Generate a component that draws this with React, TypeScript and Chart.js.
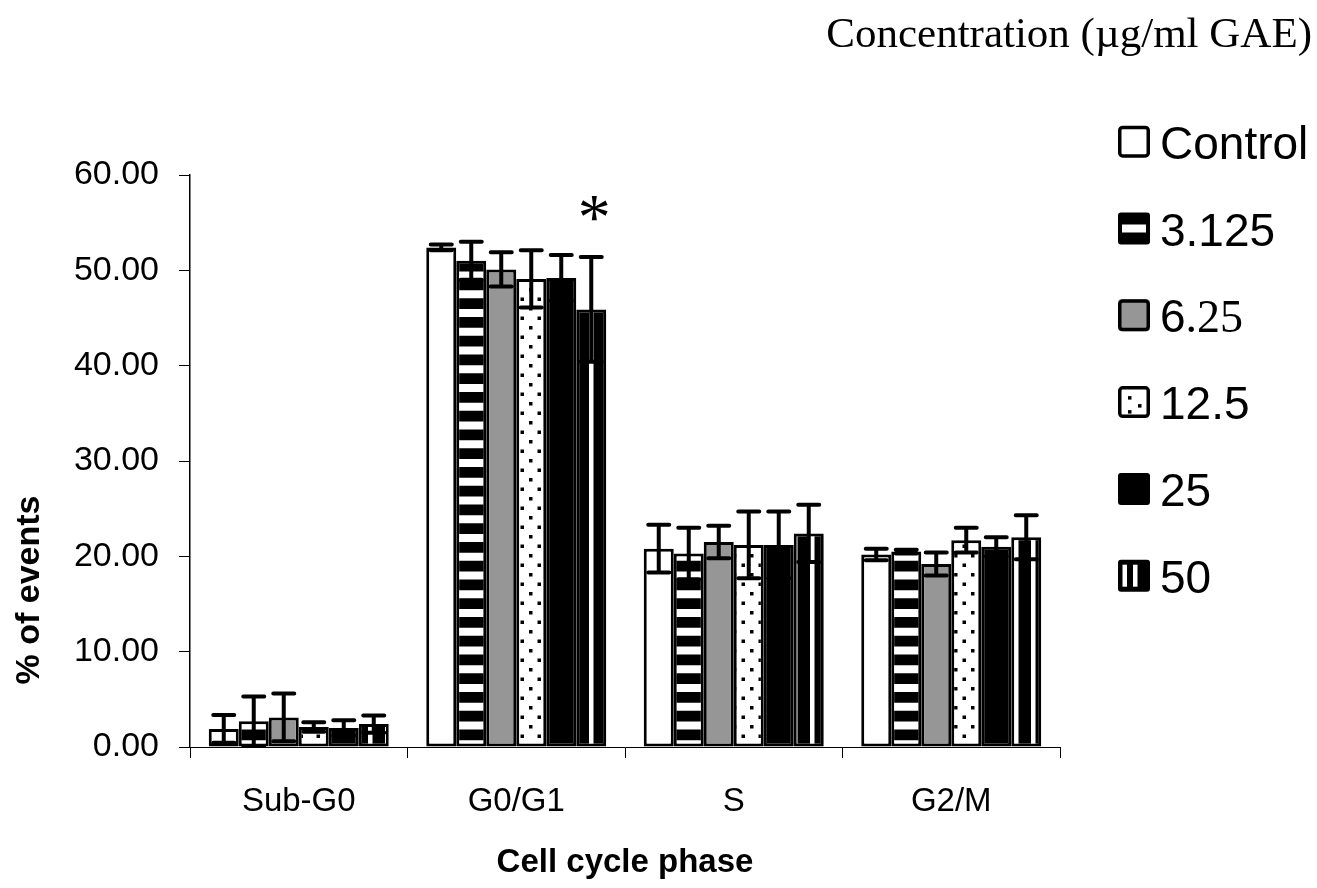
import React, { useEffect, useRef } from "react";
import { Chart, registerables } from "chart.js";

Chart.register(...registerables);

// ---------- data ----------
const categories = ["Sub-G0", "G0/G1", "S", "G2/M"];
const seriesLabels = ["Control", "3.125", "6.25", "12.5", "25", "50"];

const controlValues = [1.9, 52.4, 20.8, 20.2];
const c3125Values = [2.7, 51.0, 20.3, 20.5];
const c625Values = [3.1, 50.1, 21.5, 19.2];
const c125Values = [2.1, 49.1, 21.2, 21.7];
const c25Values = [2.0, 49.2, 21.2, 21.0];
const c50Values = [2.4, 45.9, 22.4, 22.0];

const controlSD = [1.45, 0.3, 2.5, 0.6];
const c3125SD = [2.6, 2.0, 2.7, 0.2];
const c625SD = [2.5, 1.8, 1.7, 1.2];
const c125SD = [0.5, 3.0, 3.5, 1.3];
const c25SD = [0.8, 2.4, 3.5, 1.0];
const c50SD = [0.9, 5.5, 3.0, 2.3];

const yTicks = [0, 10, 20, 30, 40, 50, 60];
const legendTitle = "Concentration (\u00b5g/ml GAE)";
const xTitle = "Cell cycle phase";
const yTitle = "% of events";
// significance marks: [category index, series index, mark]
const significance: [number, number, string][] = [[1, 5, "*"]];

const seriesValues = [controlValues, c3125Values, c625Values, c125Values, c25Values, c50Values];
const seriesSD = [controlSD, c3125SD, c625SD, c125SD, c25SD, c50SD];

const SANS = "'Liberation Sans', Arial, sans-serif";
const SERIF = "'Liberation Serif', 'Times New Roman', serif";
const GRAY = "#969696";

function tile(w: number, h: number, draw: (g: CanvasRenderingContext2D) => void): CanvasPattern {
  const c = document.createElement("canvas");
  c.width = w;
  c.height = h;
  const g = c.getContext("2d")!;
  draw(g);
  return g.createPattern(c, "repeat")!;
}

function makeFills(): (string | CanvasPattern)[] {
  const hStripes = tile(4, 75, (g) => {
    g.fillStyle = "#000";
    g.fillRect(0, 0, 4, 75);
    g.fillStyle = "#fff";
    for (let k = 0; k < 4; k++) g.fillRect(0, 9 + k * 18.75, 4, 8);
  });
  const dots = tile(17, 19, (g) => {
    g.fillStyle = "#fff";
    g.fillRect(0, 0, 17, 19);
    g.fillStyle = "#000";
    g.fillRect(2, 3, 3.5, 3.5);
    g.fillRect(10.5, 12.5, 3.5, 3.5);
  });
  const vStripes = tile(17, 4, (g) => {
    g.fillStyle = "#000";
    g.fillRect(0, 0, 17, 4);
    g.fillStyle = "#fff";
    g.fillRect(11, 0, 4.5, 4);
  });
  return ["#ffffff", hStripes, GRAY, dots, "#000000", vStripes];
}

const errorBarPlugin = {
  id: "errorBars",
  afterDatasetsDraw(chart: any) {
    const ctx: CanvasRenderingContext2D = chart.ctx;
    const ys = chart.scales.y;
    chart.data.datasets.forEach((ds: any, i: number) => {
      const meta = chart.getDatasetMeta(i);
      meta.data.forEach((bar: any, j: number) => {
        const v = ds.data[j];
        const e = seriesSD[i][j];
        const x = bar.x;
        const yT = ys.getPixelForValue(v + e);
        const yB = ys.getPixelForValue(Math.max(0, v - e));
        ctx.save();
        ctx.strokeStyle = "#000";
        ctx.lineWidth = 4;
        ctx.lineCap = "round";
        ctx.beginPath();
        ctx.moveTo(x, yT);
        ctx.lineTo(x, yB);
        ctx.moveTo(x - 10.5, yT);
        ctx.lineTo(x + 10.5, yT);
        ctx.moveTo(x - 10.5, yB);
        ctx.lineTo(x + 10.5, yB);
        ctx.stroke();
        ctx.restore();
      });
    });
    // significance marks
    significance.forEach(([ci, si, mark]) => {
      const bar = chart.getDatasetMeta(si).data[ci];
      const v = seriesValues[si][ci] + seriesSD[si][ci];
      const cy = ys.getPixelForValue(v) - 48;
      ctx.save();
      ctx.font = `66px ${SERIF}`;
      ctx.fillStyle = "#000";
      ctx.textAlign = "center";
      ctx.textBaseline = "alphabetic";
      const m = ctx.measureText(mark);
      const mid = (m.actualBoundingBoxAscent - m.actualBoundingBoxDescent) / 2;
      ctx.fillText(mark, bar.x + 3, cy + mid);
      ctx.restore();
    });
  },
};

function drawLegendBox(ctx: CanvasRenderingContext2D, i: number, x: number, y: number, s: number) {
  ctx.save();
  const r = 3;
  ctx.beginPath();
  (ctx as any).roundRect(x, y, s, s, r);
  if (i === 0) {
    ctx.fillStyle = "#fff";
    ctx.fill();
  } else if (i === 1) {
    ctx.fillStyle = "#000";
    ctx.fill();
    ctx.fillStyle = "#fff";
    ctx.fillRect(x + 4, y + s / 2 - 4, s - 8, 8);
  } else if (i === 2) {
    ctx.fillStyle = GRAY;
    ctx.fill();
  } else if (i === 3) {
    ctx.fillStyle = "#fff";
    ctx.fill();
    ctx.fillStyle = "#000";
    ctx.fillRect(x + 10, y + 10, 3.5, 3.5);
    ctx.fillRect(x + 20, y + 18, 3.5, 3.5);
    ctx.fillRect(x + 10, y + 24, 3.5, 3.5);
  } else if (i === 4) {
    ctx.fillStyle = "#000";
    ctx.fill();
  } else {
    ctx.fillStyle = "#000";
    ctx.fill();
    ctx.fillStyle = "#fff";
    ctx.fillRect(x + 4.5, y + 5, 4.5, s - 10);
    ctx.fillRect(x + 15, y + 5, 4.5, s - 10);
  }
  if (i !== 1 && i !== 4 && i !== 5) {
    ctx.beginPath();
    (ctx as any).roundRect(x + 1.75, y + 1.75, s - 3.5, s - 3.5, r);
    ctx.strokeStyle = "#000";
    ctx.lineWidth = 3.5;
    ctx.stroke();
  }
  ctx.restore();
}

const legendPlugin = {
  id: "customLegend",
  afterDraw(chart: any) {
    const ctx: CanvasRenderingContext2D = chart.ctx;
    ctx.save();
    // title
    ctx.font = `43px ${SERIF}`;
    ctx.fillStyle = "#000";
    ctx.textAlign = "right";
    ctx.textBaseline = "alphabetic";
    ctx.fillText(legendTitle, 1312, 47);
    // y axis title (placed lower than the axis centre, as in the original)
    ctx.save();
    ctx.translate(30, 590);
    ctx.rotate(-Math.PI / 2);
    ctx.font = `bold 34px ${SANS}`;
    ctx.textAlign = "center";
    ctx.textBaseline = "middle";
    ctx.fillText(yTitle, 0, 0);
    ctx.restore();
    // items
    const boxX = 1118;
    const boxS = 32;
    const textX = 1160;
    const top = 141.7;
    const step = 86.8;
    chart.data.datasets.forEach((ds: any, i: number) => {
      const cy = top + i * step;
      drawLegendBox(ctx, i, boxX, cy - boxS / 2, boxS);
      const label: string = ds.label;
      ctx.textAlign = "left";
      ctx.fillStyle = "#000";
      if (label === "6.25") {
        ctx.font = `46px ${SANS}`;
        ctx.fillText("6", textX, cy + 17);
        const w = ctx.measureText("6").width;
        ctx.font = `46px ${SERIF}`;
        ctx.fillText(".25", textX + w, cy + 17);
      } else {
        ctx.font = `46px ${SANS}`;
        ctx.fillText(label, textX, cy + 17);
      }
    });
    ctx.restore();
  },
};

export default function App() {
  const ref = useRef<HTMLCanvasElement>(null);
  useEffect(() => {
    document.body.style.margin = "0";
    const fills = makeFills();
    const chart = new Chart(ref.current!, {
      type: "bar",
      data: {
        labels: categories,
        datasets: seriesLabels.map((label, i) => ({
          label,
          data: seriesValues[i],
          backgroundColor: fills[i] as any,
          borderColor: "#000",
          borderWidth: 3,
          borderSkipped: false,
          categoryPercentage: 0.8276,
          barPercentage: 1,
        })),
      },
      options: {
        animation: false,
        responsive: false,
        devicePixelRatio: 1,
        layout: { padding: { top: 175, right: 257, bottom: 0, left: 0 } },
        plugins: {
          legend: { display: false },
          title: { display: false },
          tooltip: { enabled: false },
        },
        scales: {
          x: {
            type: "category",
            offset: true,
            grid: {
              offset: true,
              drawOnChartArea: false,
              drawTicks: true,
              tickLength: 11,
              color: "#000",
              lineWidth: 1,
            },
            border: { display: true, color: "#000", width: 1 },
            ticks: {
              color: "#000",
              font: { family: SANS, size: 33 },
              padding: 24,
              maxRotation: 0,
            },
            title: {
              display: true,
              text: xTitle,
              color: "#000",
              font: { family: SANS, size: 33, weight: "bold" },
              padding: { top: 0, bottom: 5 },
            },
            afterFit: (s: any) => {
              s.height = 141;
            },
          } as any,
          y: {
            min: 0,
            max: 60,
            afterBuildTicks: (s: any) => {
              s.ticks = yTicks.map((v) => ({ value: v }));
            },
            ticks: {
              color: "#000",
              font: { family: SANS, size: 34 },
              padding: 20,
              callback: (v: any) => Number(v).toFixed(2),
            },
            grid: {
              drawOnChartArea: false,
              drawTicks: true,
              tickLength: 11,
              color: "#000",
              lineWidth: 1,
            },
            border: { display: true, color: "#000", width: 1.5 },
            title: { display: false },
            afterFit: (s: any) => {
              s.width = 190;
            },
          } as any,
        },
      },
      plugins: [errorBarPlugin, legendPlugin],
    });
    return () => chart.destroy();
  }, []);
  return (
    <div style={{ position: "absolute", left: 0, top: 0, width: 1317, height: 888, background: "#fff" }}>
      <canvas ref={ref} width={1317} height={888} />
    </div>
  );
}
